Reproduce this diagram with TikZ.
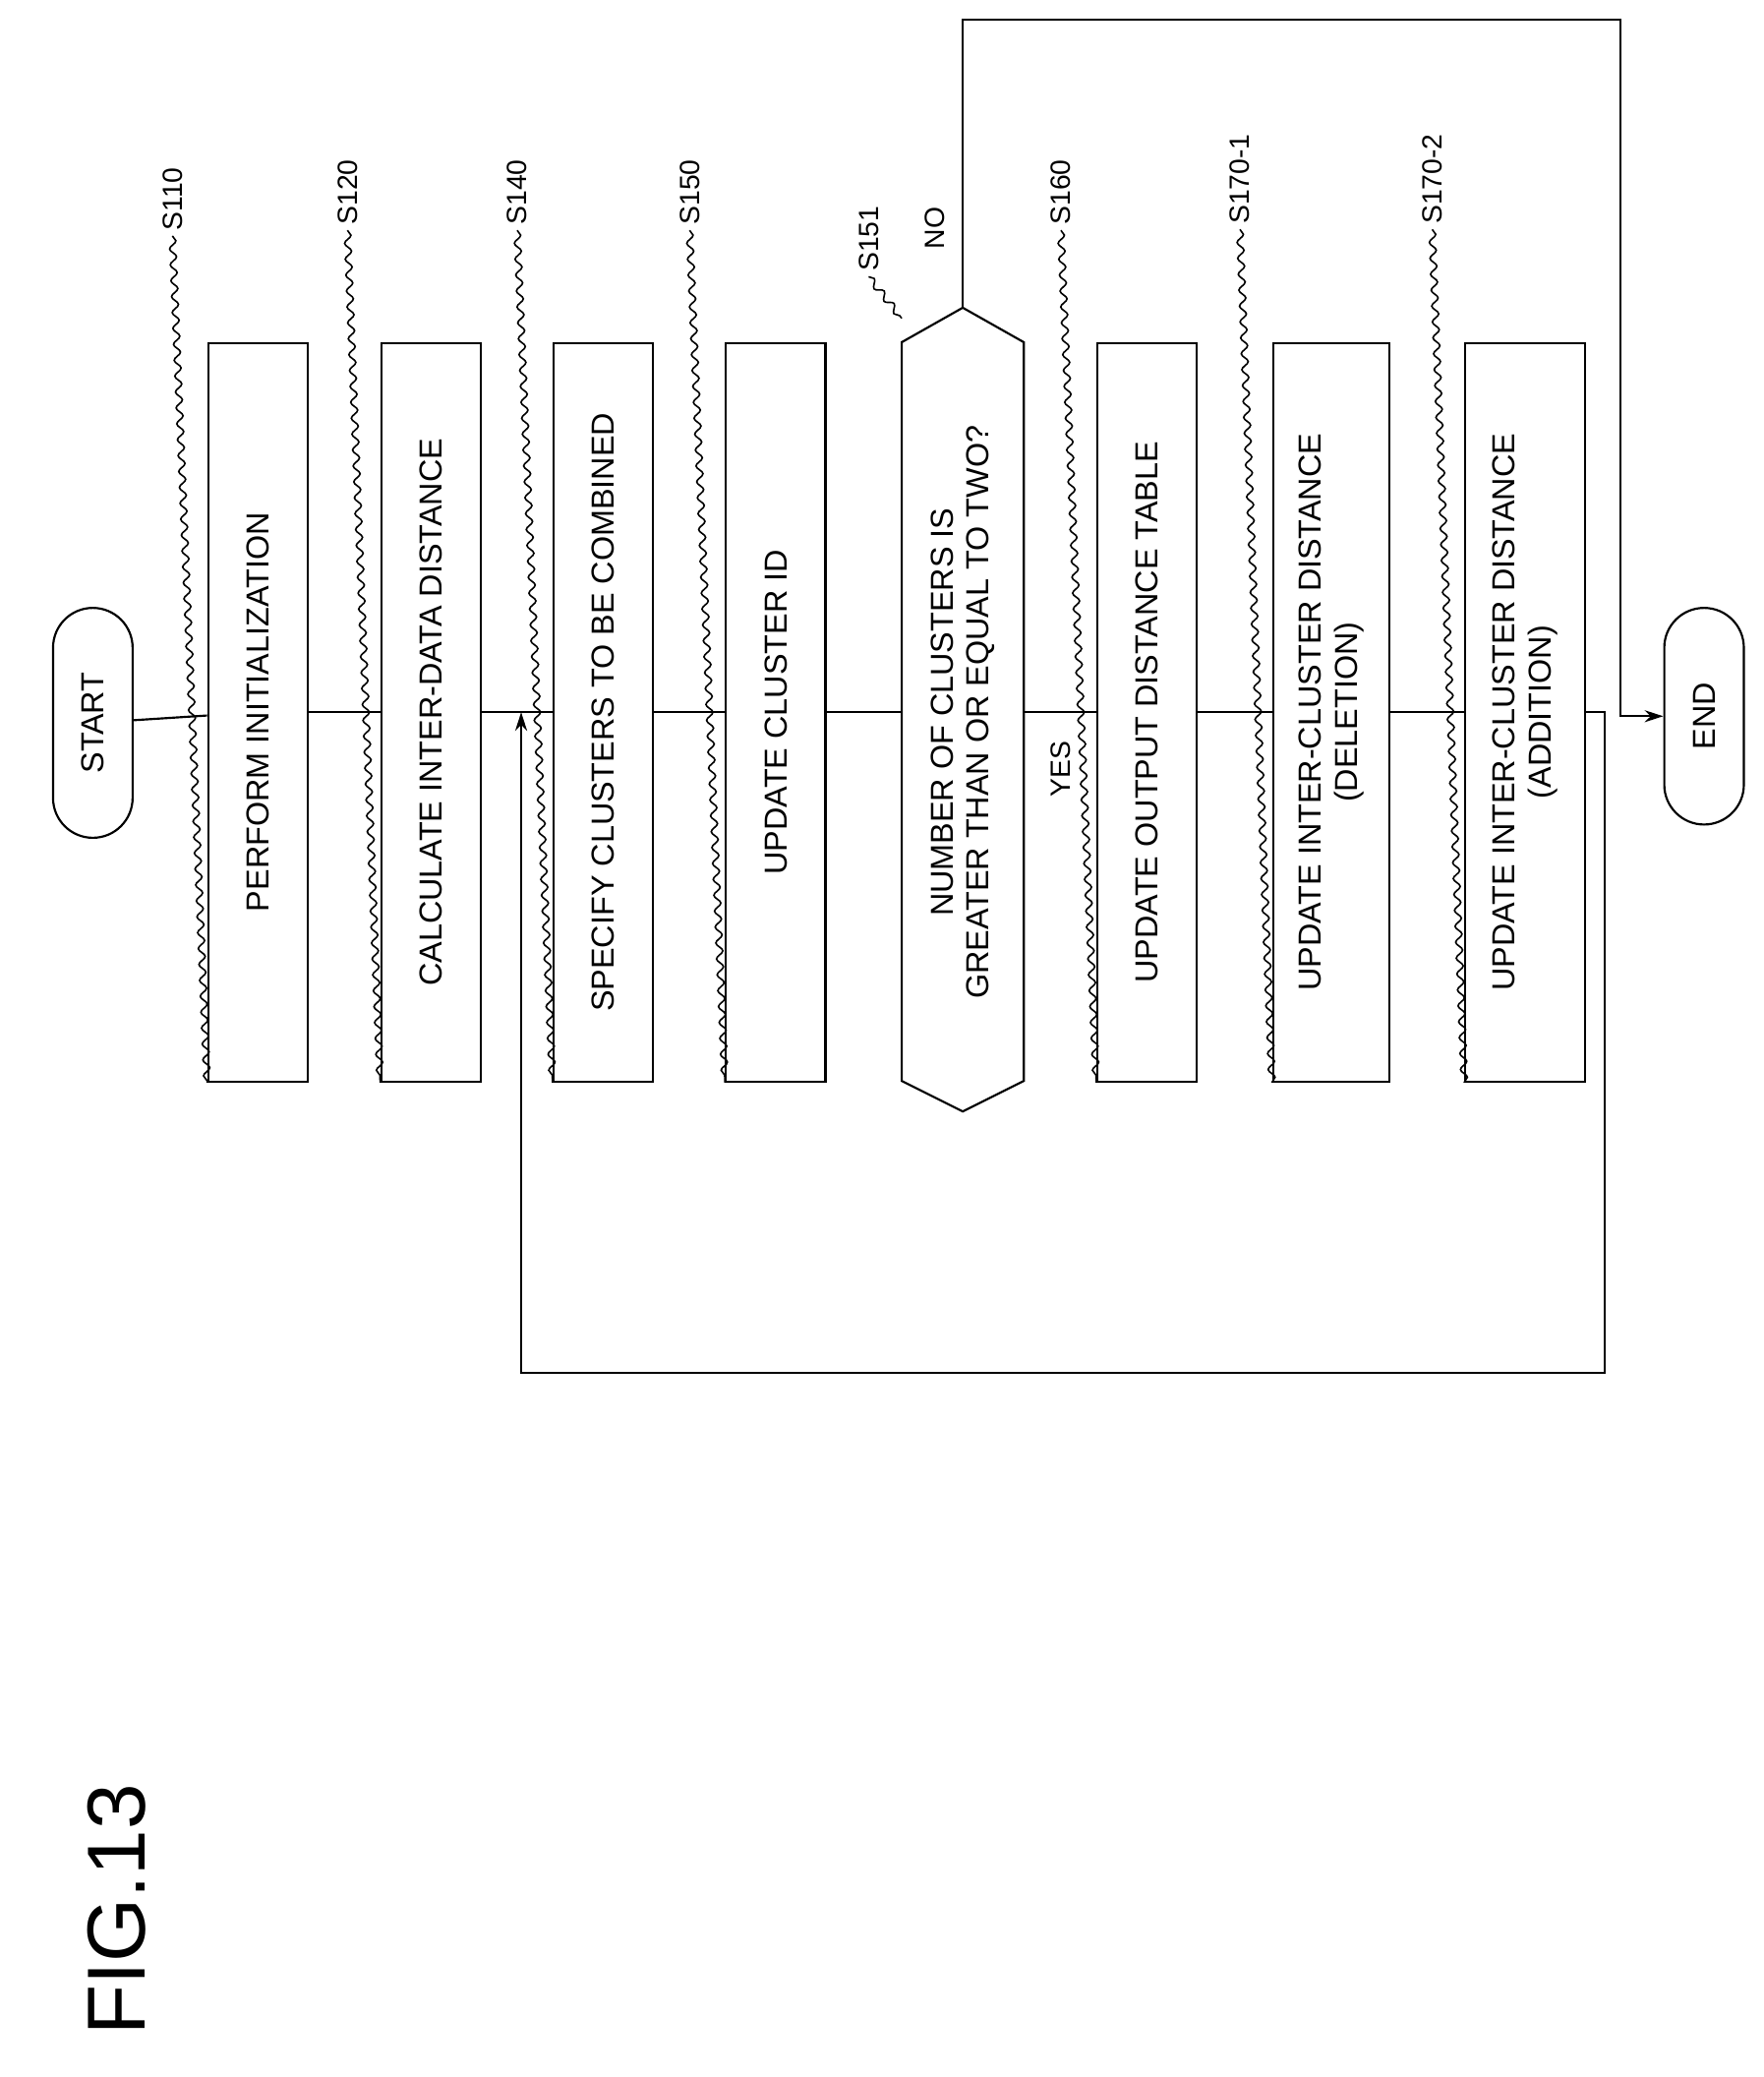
\documentclass[tikz,border=0pt]{standalone}
\usepackage{fontspec}
\setmainfont{Liberation Sans}
\usetikzlibrary{shapes.misc,decorations.pathmorphing,arrows.meta}
\begin{document}
\begin{tikzpicture}[x=1pt,y=-1pt,line width=1.6pt,
 box/.style={draw,rectangle,rotate=90,minimum width=557pt,minimum height=75pt,inner sep=2pt,font=\fontsize{24}{27}\selectfont,align=center},
 term/.style={draw,rounded rectangle,rotate=90,minimum width=180pt,minimum height=60pt,font=\fontsize{24}{27}\selectfont},
 lab/.style={rotate=90,font=\fontsize{21}{24}\selectfont},
 sq/.style={line width=1.2pt,decorate,decoration={snake,segment length=12pt,amplitude=2.5pt}},
 arr/.style={-{Stealth[length=14pt,width=9pt]}}]
\useasboundingbox (0,0) rectangle (1330,1566);
\node[term] (start) at (70,545) {START};
\node[box] (s110) at (194.5,537) {PERFORM INITIALIZATION};
\node[box] (s120) at (325,537) {CALCULATE INTER-DATA DISTANCE};
\node[box] (s140) at (455,537) {SPECIFY CLUSTERS TO BE COMBINED};
\node[box] (s150) at (585,537) {UPDATE CLUSTER ID};
\draw (680,258) coordinate (hl) -- (726,232) coordinate (htop) -- (772,258) -- (772,815) -- (726,838) -- (680,815) -- cycle;
\node[rotate=90,align=center,font=\fontsize{24}{27}\selectfont] (s151) at (726,537) {NUMBER OF CLUSTERS IS\\GREATER THAN OR EQUAL TO TWO?};
\coordinate (hw) at (680,537); \coordinate (he) at (772,537);
\node[box] (s160) at (865,537) {UPDATE OUTPUT DISTANCE TABLE};
\node[box,minimum height=88pt] (s1701) at (1004,537) {UPDATE INTER-CLUSTER DISTANCE\\(DELETION)};
\node[box,minimum height=90pt] (s1702) at (1150,537) {UPDATE INTER-CLUSTER DISTANCE\\(ADDITION)};
\node[term,minimum width=170pt] (end) at (1285,540) {END};
\draw (start) -- (s110);
\draw (s110) -- (s120);
\draw (s120) -- (s140);
\draw (s140) -- (s150);
\draw (s150.south) -- (hw);
\draw (he) -- (s160.north);
\draw (s160) -- (s1701);
\draw (s1701) -- (s1702);
\coordinate (j) at (393,537);
\coordinate (l1) at (1210,537);
\coordinate (l2) at (1210,1035);
\draw[arr] (s1702.south) -- (l1) -- (l2) -| (j);
\coordinate (n1) at (1222,15);
\draw[arr] (htop) |- (n1) |- (end.north);
\node[lab] at (705,172) {NO};
\node[lab] at (800,580) {YES};
\node[lab] (l110) at (130,150) {S110};
\node[lab] (l120) at (262,145) {S120};
\node[lab] (l140) at (390,145) {S140};
\node[lab] (l150) at (520,145) {S150};
\node[lab] (l151) at (655,180) {S151};
\node[lab] (l160) at (800,145) {S160};
\node[lab] (l1701) at (935,135) {S170-1};
\node[lab] (l1702) at (1080,135) {S170-2};
\draw[sq] (l110.west) -- (s110.north west);
\draw[sq] (l120.west) -- (s120.north west);
\draw[sq] (l140.west) -- (s140.north west);
\draw[sq] (l150.west) -- (s150.north west);
\draw[sq] (l151.west) -- (680,240);
\draw[sq] (l160.west) -- (s160.north west);
\draw[sq] (l1701.west) -- (s1701.north west);
\draw[sq] (l1702.west) -- (s1702.north west);
\node[rotate=90,font=\fontsize{62}{70}\selectfont] (fig) at (88,1440) {FIG.13};
\end{tikzpicture}
\end{document}
